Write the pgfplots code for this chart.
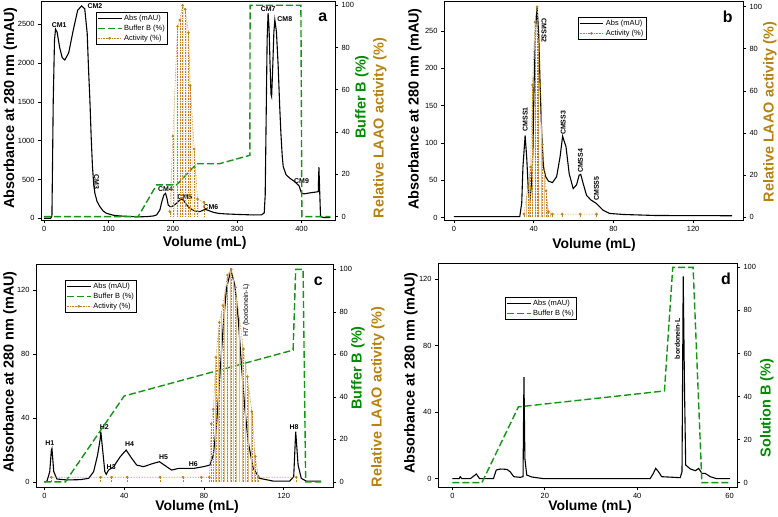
\documentclass[border=0pt]{standalone}
\usepackage{fontspec}
\setmainfont{Liberation Sans}
\usepackage{pgfplots}
\pgfplotsset{compat=1.18}
\usetikzlibrary{patterns}
\definecolor{greenB}{RGB}{20,150,20}
\definecolor{greenL}{RGB}{0,140,0}
\definecolor{actcol}{RGB}{190,130,25}
\definecolor{actL}{RGB}{185,130,15}
\newcommand{\ylab}{\fontsize{14.5}{16}\selectfont\bfseries}
\newcommand{\xlab}{\fontsize{14}{16}\selectfont\bfseries}
\newcommand{\pk}{\fontsize{7}{8}\selectfont\bfseries}
\newcommand{\pl}{\fontsize{16}{18}\selectfont\bfseries}
\pgfplotsset{
 base/.style={scale only axis, anchor=south west, tick align=outside, major tick length=3bp,
   tick style={black, line width=0.6bp}, axis line style={line width=0.7bp},
   tick label style={font=\fontsize{7.5}{8}\selectfont},
   /pgf/number format/assume math mode=true, /pgf/number format/1000 sep={}, scaled ticks=false},
 leftax/.style={base, xtick pos=left, ytick pos=left},
 rightax/.style={base, axis y line*=right, axis x line=none, ytick={0,20,...,100}, ymin=-1.6, ymax=102},
 absst/.style={black, line width=1.1bp},
 bufst/.style={greenB, line width=1.4bp, dash pattern=on 7bp off 3bp},
 actst/.style={actcol, line width=0.6bp, densely dotted, mark=*, mark size=1bp, mark options={solid, fill=actcol}},
 legst/.style={legend cell align=left, legend style={draw=black, line width=0.5bp, font=\fontsize{7.5}{8.5}\selectfont, inner sep=0.8bp, row sep=-1bp}},
 legend image code/.code={\draw[mark repeat=2,mark phase=2,#1] plot coordinates {(0cm,0cm) (0.42cm,0cm) (0.84cm,0cm)};},
}
\begin{document}
\begin{tikzpicture}
\path[use as bounding box] (0bp,0bp) rectangle (778bp,517bp);
% ---------------- panel a ----------------
\begin{axis}[leftax, at={(41bp,297bp)}, width=294bp, height=219bp, xmin=-5, xmax=452, ymin=-22, ymax=2800,
  xtick={0,100,...,400}, ytick={0,500,...,2500}]
\addplot[absst] coordinates {(0,0) (10,0) (12,30) (14,1500) (16,2300) (17.6,2436) (20,2400) (24,2200) (28,2070) (32,2040) (38,2130) (45,2420) (52,2680) (58,2736) (63,2700) (66.8,2384) (69,1900) (71,1525) (73,1050) (75,666) (77,430) (78.8,322) (82,220) (86.5,150) (92,90) (97,64) (107,40) (117.6,30) (130,25) (146,18) (160,22) (170,30) (174.6,43) (179.8,107) (183,220) (186,300) (188.6,322) (191,250) (192.7,172) (195.5,150) (198,150) (202,170) (205.7,193) (210,230) (213.5,245) (216,240) (220,190) (223.8,150) (229,115) (234,94) (242,86) (246,100) (249.7,116) (254,105) (262.7,77) (272,62) (283,56) (300,50) (325,43) (338,45) (342,70) (343.5,300) (345,1300) (346.5,2300) (348,2642) (349.5,2450) (351,2000) (352.5,1600) (353.5,1568) (355,1900) (357,2400) (358.5,2556) (361,2400) (363.7,1955) (366,1450) (367.9,1095) (370,800) (371.5,666) (376,560) (382,515) (388,480) (392,451) (396,420) (400,322) (404,315) (415,330) (424,340) (426,344) (427,660) (428,400) (429.5,21) (435,10) (445,10)};
\node[font=\pk] at (axis cs:23.3,2491) {CM1};
\node[font=\pk] at (axis cs:78.8,2740) {CM2};
\node[font=\pk, rotate=-90] at (axis cs:81.3,472) {CM3};
\node[font=\pk] at (axis cs:188.6,374) {CM4};
\node[font=\pk] at (axis cs:218.6,279) {CM5};
\node[font=\pk] at (axis cs:259,150) {CM6};
\node[font=\pk] at (axis cs:348.2,2693) {CM7};
\node[font=\pk] at (axis cs:374,2569) {CM8};
\node[font=\pk] at (axis cs:400,485) {CM9};
\end{axis}
\begin{axis}[rightax, legst, at={(41bp,297bp)}, width=294bp, height=219bp, xmin=-5, xmax=452,
  legend style={at={(0.187,0.95)}, anchor=north west}]
\addlegendimage{absst}
\addplot[bufst] coordinates {(0,0) (146,0) (174.6,15) (205.7,15) (237,25) (272,25) (319.7,29) (320,100) (399,100) (400.5,0) (445,0)};
\addplot[draw=none, pattern=vertical lines, pattern color=actcol!50, forget plot] coordinates {(195.3,2.4) (200,38.1) (207.3,90) (210.9,93) (215,100) (219.2,98) (224.3,87) (227,62) (233.2,32) (238.3,8.3) (248.2,6.8)} \closedcycle;
\addplot[actcol, densely dotted, line width=0.6bp, ycomb, forget plot] coordinates {(195.3,2.4) (200,38.1) (207.3,90) (210.9,93) (215,100) (219.2,98) (224.3,87) (227,62) (233.2,32) (238.3,8.3) (248.2,6.8)};
\addplot[actst] coordinates {(195.3,2.4) (200,38.1) (207.3,90) (210.9,93) (215,100) (219.2,98) (224.3,87) (227,62) (233.2,32) (238.3,8.3) (248.2,6.8)};
\legend{Abs (mAU), Buffer B (\%), Activity (\%)}
\end{axis}
% ---------------- panel b ----------------
\begin{axis}[leftax, at={(444bp,297bp)}, width=299bp, height=219bp, xmin=-5, xmax=145, ymin=-3, ymax=290,
  xtick={0,40,80,120}, ytick={0,50,...,250}]
\addplot[absst] coordinates {(0,1.5) (33,1.5) (34,20) (34.6,68) (35.7,110) (36.5,80) (37.4,32) (38.2,25) (39,50) (39.6,90) (40.2,179) (41,255) (41.7,282) (42.5,246) (43.2,179) (44,113) (44.9,68) (46,55) (47.4,49) (49.4,47) (51.5,55) (53.2,81) (54.5,109) (56.2,95) (57.8,59) (59.8,39) (61.5,44) (62.8,57) (63.6,58) (64.8,46) (66.5,30) (68.6,24) (71.5,19) (74.8,10) (78,5.8) (84.8,4.4) (101.4,3) (139.6,2.7)};
\node[font=\pk, rotate=90] at (axis cs:35.7,131.7) {CMSS1};
\node[font=\pk, rotate=-90] at (axis cs:45.2,250.4) {CMSS2};
\node[font=\pk, rotate=90] at (axis cs:54.8,126.8) {CMSS3};
\node[font=\pk, rotate=90] at (axis cs:63.5,76) {CMSS4};
\node[font=\pk, rotate=90] at (axis cs:71.5,39) {CMSS5};
\end{axis}
\begin{axis}[rightax, legst, at={(444bp,297bp)}, width=299bp, height=219bp, xmin=-5, xmax=145, ymin=-1.4, ymax=102.7,
  legend style={at={(0.448,0.927)}, anchor=north west}]
\addlegendimage{absst}
\addplot[draw=none, pattern=vertical lines, pattern color=actcol!50, forget plot] coordinates {(35.1,1.4) (37.1,14.4) (38.4,23.8) (39.4,62.8) (40.6,92.7) (41.7,100) (42.5,83.8) (44.4,34.5) (46.2,12.5) (47.4,2.5) (49.4,1.4)} \closedcycle;
\addplot[actcol, densely dotted, line width=0.6bp, ycomb, forget plot] coordinates {(35.1,1.4) (37.1,14.4) (38.4,23.8) (39.4,62.8) (40.6,92.7) (41.7,100) (42.5,83.8) (44.4,34.5) (46.2,12.5) (47.4,2.5) (49.4,1.4) (54.3,1.4) (63.3,1.4) (71.5,1.4)};
\addplot[actst] coordinates {(35.1,1.4) (37.1,14.4) (38.4,23.8) (39.4,62.8) (40.6,92.7) (41.7,100) (42.5,83.8) (44.4,34.5) (46.2,12.5) (47.4,2.5) (49.4,1.4) (54.3,1.4) (63.3,1.4) (71.5,1.4)};
\legend{Abs (mAU), Activity (\%)}
\end{axis}
% ---------------- panel c ----------------
\begin{axis}[leftax, at={(36bp,30bp)}, width=297bp, height=223bp, xmin=-4.2, xmax=144.7, ymin=-3.1, ymax=136.3,
  xtick={0,40,80,120}, ytick={0,40,80,120}]
\addplot[absst] coordinates {(0,0) (1.3,0.6) (2.7,6.5) (3.5,20) (3.8,21) (4.7,6.5) (6.3,1.9) (11.3,1.3) (18,1.5) (22.2,2.3) (24.7,6.5) (26.7,17) (28,27) (28.3,31.5) (29.3,19) (30.3,6.5) (31,4.8) (32.2,7.5) (34.7,9.6) (38,15.8) (41,20) (43.8,14.8) (46.3,10.6) (49.7,9.6) (54.7,11.7) (57.7,12.7) (61.3,9.6) (63.8,7.5) (67.2,8.5) (74.7,8.5) (79.7,9.6) (83,10.6) (84.7,17) (86.3,35.6) (88,66.9) (89.7,98) (91.3,121) (93.5,132.5) (95.5,123) (97.2,102) (98.8,73) (100.5,46) (102.2,25) (104.7,8.5) (108,2.3) (114.7,0.6) (123,0.6) (125,3.3) (126,31.5) (127.2,10.6) (128.8,2.3) (131.3,0.6) (138.8,0.6)};
\node[font=\pk] at (axis cs:2.7,24.2) {H1};
\node[font=\pk] at (axis cs:30,34.6) {H2};
\node[font=\pk] at (axis cs:33.5,9.6) {H3};
\node[font=\pk] at (axis cs:42.7,23.5) {H4};
\node[font=\pk] at (axis cs:59.7,15.4) {H5};
\node[font=\pk] at (axis cs:74.7,11.25) {H6};
\node[font=\fontsize{7}{8}\selectfont, rotate=90] at (axis cs:101.3,107.5) {H7 (bordonein-L)};
\node[font=\pk] at (axis cs:125.2,34.6) {H8};
\end{axis}
\begin{axis}[rightax, legst, at={(36bp,30bp)}, width=297bp, height=223bp, xmin=-4.2, xmax=144.7, ymin=-2.4, ymax=102.5,
  legend style={at={(0.098,0.928)}, anchor=north west}]
\addlegendimage{absst}
\addplot[bufst] coordinates {(0,0) (10.5,0) (40,40.4) (124.7,62) (126,100) (129.7,100) (131,0) (138.8,0)};
\addplot[draw=none, pattern=vertical lines, pattern color=actcol!50, forget plot] coordinates {(82.7,2.2) (83.7,27.3) (84.7,34.2) (86,58.6) (87.7,75) (89.5,83) (91.8,97.3) (93.7,100) (95.8,91.4) (99.8,62.5) (101.8,49.5) (104,33) (105.8,12) (107.2,2.2)} \closedcycle;
\addplot[actcol, densely dotted, line width=0.6bp, ycomb, forget plot] coordinates {(3.5,2.2) (28.2,2.2) (33.7,2.2) (41.5,2.2) (58,2.2) (69.5,2.2) (78.7,2.2) (82.7,2.2) (83.7,27.3) (84.7,34.2) (86,58.6) (87.7,75) (89.5,83) (91.8,97.3) (93.7,100) (95.8,91.4) (99.8,62.5) (101.8,49.5) (104,33) (105.8,12) (107.2,2.2) (126.3,2.2)};
\addplot[actst] coordinates {(3.5,2.2) (28.2,2.2) (33.7,2.2) (41.5,2.2) (58,2.2) (69.5,2.2) (78.7,2.2) (82.7,2.2) (83.7,27.3) (84.7,34.2) (86,58.6) (87.7,75) (89.5,83) (91.8,97.3) (93.7,100) (95.8,91.4) (99.8,62.5) (101.8,49.5) (104,33) (105.8,12) (107.2,2.2) (126.3,2.2)};
\legend{Abs (mAU), Buffer B (\%), Activity (\%)}
\end{axis}
% ---------------- panel d ----------------
\begin{axis}[leftax, at={(438bp,30bp)}, width=299bp, height=224bp, xmin=-3.1, xmax=61.6, ymin=-5, ymax=129.6,
  xtick={0,20,40,60}, ytick={0,40,80,120}]
\addplot[absst] coordinates {(0,0) (1.5,0) (1.7,1.2) (2.1,0) (3.9,0) (5.2,2.8) (5.9,0) (8.9,0) (9.5,5.2) (10.4,5.8) (11.8,5.6) (12.5,4.2) (13.3,1.2) (14.7,0.8) (15.3,1.2) (15.5,61) (15.7,12) (16.1,2.2) (17.2,1) (19.8,0) (42.8,0) (43.5,3.2) (44,6.2) (44.6,4.2) (45.3,1.2) (49.3,0.6) (49.7,4.2) (49.96,121.6) (50.25,52) (50.5,8.2) (51.5,5.8) (52.6,4.8) (53.3,6.2) (54,3.2) (54.7,3.2) (55.8,1.2) (57.2,0) (60.1,0)};
\node[font=\pk, rotate=90] at (axis cs:48.7,84) {bordonein-L};
\end{axis}
\begin{axis}[rightax, legst, at={(438bp,30bp)}, width=299bp, height=224bp, xmin=-3.1, xmax=61.6, ymin=-2, ymax=102,
  legend style={at={(0.224,0.848)}, anchor=north west}]
\addlegendimage{absst}
\addplot[bufst] coordinates {(0,0) (6.4,0) (14.3,35.2) (45.9,42.6) (47.7,100) (52.1,100) (54,0) (60,0)};
\legend{Abs (mAU), Buffer B (\%)}
\end{axis}
% ---------------- labels ----------------
\node[font=\ylab, rotate=90] at (10.5bp,409bp) {Absorbance at 280 nm (mAU)};
\node[font=\ylab, rotate=90] at (415bp,408bp) {Absorbance at 280 nm (mAU)};
\node[font=\ylab, rotate=90] at (10bp,145bp) {Absorbance at 280 nm (mAU)};
\node[font=\ylab, rotate=90] at (411bp,144bp) {Absorbance at 280 nm (mAU)};
\node[font=\xlab] at (204.7bp,274.3bp) {Volume (mL)};
\node[font=\xlab] at (594bp,272bp) {Volume (mL)};
\node[font=\xlab] at (197bp,10bp) {Volume (mL)};
\node[font=\xlab] at (590bp,10bp) {Volume (mL)};
\node[font=\ylab, rotate=90, text=greenL] at (362bp,420bp) {Buffer B (\%)};
\node[font=\ylab, rotate=90, text=actL] at (380bp,389bp) {Relative LAAO activity (\%)};
\node[font=\ylab, rotate=90, text=actL] at (770bp,405bp) {Relative LAAO activity (\%)};
\node[font=\ylab, rotate=90, text=greenL] at (358bp,149bp) {Buffer B (\%)};
\node[font=\ylab, rotate=90, text=actL] at (378bp,120bp) {Relative LAAO activity (\%)};
\node[font=\ylab, rotate=90, text=greenL] at (767bp,109bp) {Solution B (\%)};
\node[font=\pl] at (322.7bp,499.7bp) {a};
\node[font=\pl] at (727.7bp,500.3bp) {b};
\node[font=\pl] at (318.3bp,235.7bp) {c};
\node[font=\pl] at (726bp,238.3bp) {d};
\end{tikzpicture}
\end{document}
